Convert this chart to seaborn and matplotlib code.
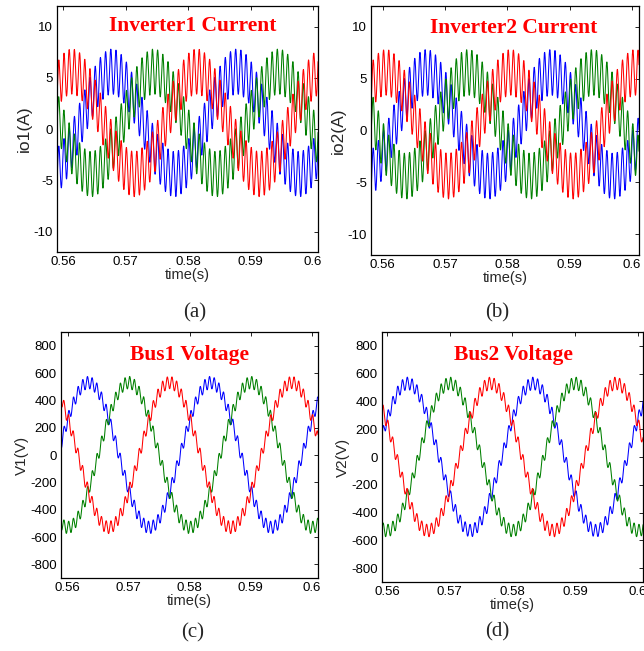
import numpy as np
import pandas as pd
import matplotlib
matplotlib.use("Agg")
import matplotlib.pyplot as plt
import seaborn as sns

# ---- values ----
phases = ["blue", "green", "red"]
colors = {"blue": "#0000FF", "green": "#008000", "red": "#FF0000"}
fundamental_hz = 50.0

# Inverter currents (A)
i_amp = 5.0            # fundamental amplitude
i_offset = 0.6         # apparent dc shift
i_ripple_amp = 2.2     # switching ripple amplitude
i_ripple_hz = 1200.0
i1_peak_times = {"red": 0.5614, "blue": 0.5678, "green": 0.5745}
i2_peak_times = {"red": 0.5605, "blue": 0.5670, "green": 0.5737}

# Bus voltages (V)
v_amp = 530.0
v_ripple_amp = 45.0
v_ripple_hz = 1300.0
v1_peak_times = {"blue": 0.5634, "green": 0.5700, "red": 0.5767}
v2_peak_times = {"blue": 0.5633, "green": 0.5700, "red": 0.5765}

panels = [
    dict(title="Inverter1 Current", ylabel="io1(A)", ylsize=12.5, tag="(a)", kind="i",
         peaks=i1_peak_times, xlim=(0.559, 0.6008), ylim=(-12, 12),
         yticks=[-10, -5, 0, 5, 10], rect=[57, 6, 318, 252], tpos=(0.52, 0.918)),
    dict(title="Inverter2 Current", ylabel="io2(A)", ylsize=12.5, tag="(b)", kind="i",
         peaks=i2_peak_times, xlim=(0.5581, 0.6011), ylim=(-12, 12),
         yticks=[-10, -5, 0, 5, 10], rect=[371, 6, 639, 255], tpos=(0.532, 0.912)),
    dict(title="Bus1 Voltage", ylabel="V1(V)", ylsize=11, tag="(c)", kind="v",
         peaks=v1_peak_times, xlim=(0.5589, 0.601), ylim=(-900, 900),
         yticks=list(range(-800, 801, 200)), rect=[61, 332, 318, 578], tpos=(0.50, 0.906)),
    dict(title="Bus2 Voltage", ylabel="V2(V)", ylsize=11, tag="(d)", kind="v",
         peaks=v2_peak_times, xlim=(0.5592, 0.6008), ylim=(-900, 900),
         yticks=list(range(-800, 801, 200)), rect=[382, 332, 643, 582], tpos=(0.505, 0.908)),
]
tag_pos = {"(a)": (195, 313), "(b)": (497, 313), "(c)": (193, 633), "(d)": (497, 632)}
xticks = [0.56, 0.57, 0.58, 0.59, 0.60]
xticklabels = ["0.56", "0.57", "0.58", "0.59", "0.6"]

W, H = 644, 651
sns.set_theme(style="white")
plt.rcParams["font.family"] = ["Liberation Sans", "DejaVu Sans"]
plt.rcParams["axes.unicode_minus"] = False
fig = plt.figure(figsize=(W / 100, H / 100), dpi=100)

t = np.linspace(0.557, 0.603, 6000)

for p in panels:
    l, top, r, b = p["rect"]
    ax = fig.add_axes([l / W, 1 - b / H, (r - l) / W, (b - top) / H])
    rows = []
    for ph in phases:
        tp = p["peaks"][ph]
        base = np.cos(2 * np.pi * fundamental_hz * (t - tp))
        if p["kind"] == "i":
            y = i_offset + i_amp * base + i_ripple_amp * np.sin(2 * np.pi * i_ripple_hz * t + 0.7)
        else:
            y = v_amp * base + v_ripple_amp * np.sin(2 * np.pi * v_ripple_hz * t + 0.3)
        rows.append(pd.DataFrame({"t": t, "y": y, "phase": ph}))
    df = pd.concat(rows, ignore_index=True)
    sns.lineplot(data=df, x="t", y="y", hue="phase", hue_order=phases,
                 palette=colors, estimator=None, sort=False, lw=0.75,
                 legend=False, ax=ax)
    ax.set_xlim(*p["xlim"])
    ax.set_ylim(*p["ylim"])
    ax.set_xticks(xticks)
    ax.set_xticklabels(xticklabels)
    ax.set_yticks(p["yticks"])
    ax.tick_params(direction="in", length=3, width=0.6, top=True, right=True,
                   labelsize=9.5, colors="black", pad=3)
    for s in ax.spines.values():
        s.set_visible(True)
        s.set_color("black")
        s.set_linewidth(0.9)
    ax.set_xlabel("time(s)", fontsize=10.5, labelpad=0)
    ax.set_ylabel(p["ylabel"], fontsize=p["ylsize"], labelpad=1)
    ax.text(p["tpos"][0], p["tpos"][1], p["title"], transform=ax.transAxes,
            ha="center", va="center", color="#FF0000", fontsize=15.5,
            fontweight="bold", family=["Liberation Serif", "DejaVu Serif"])
    tx, ty = tag_pos[p["tag"]]
    fig.text(tx / W, 1 - ty / H, p["tag"], ha="center", va="center",
             fontsize=15, family=["Liberation Serif", "DejaVu Serif"])

fig.savefig("out.png", dpi=100)
